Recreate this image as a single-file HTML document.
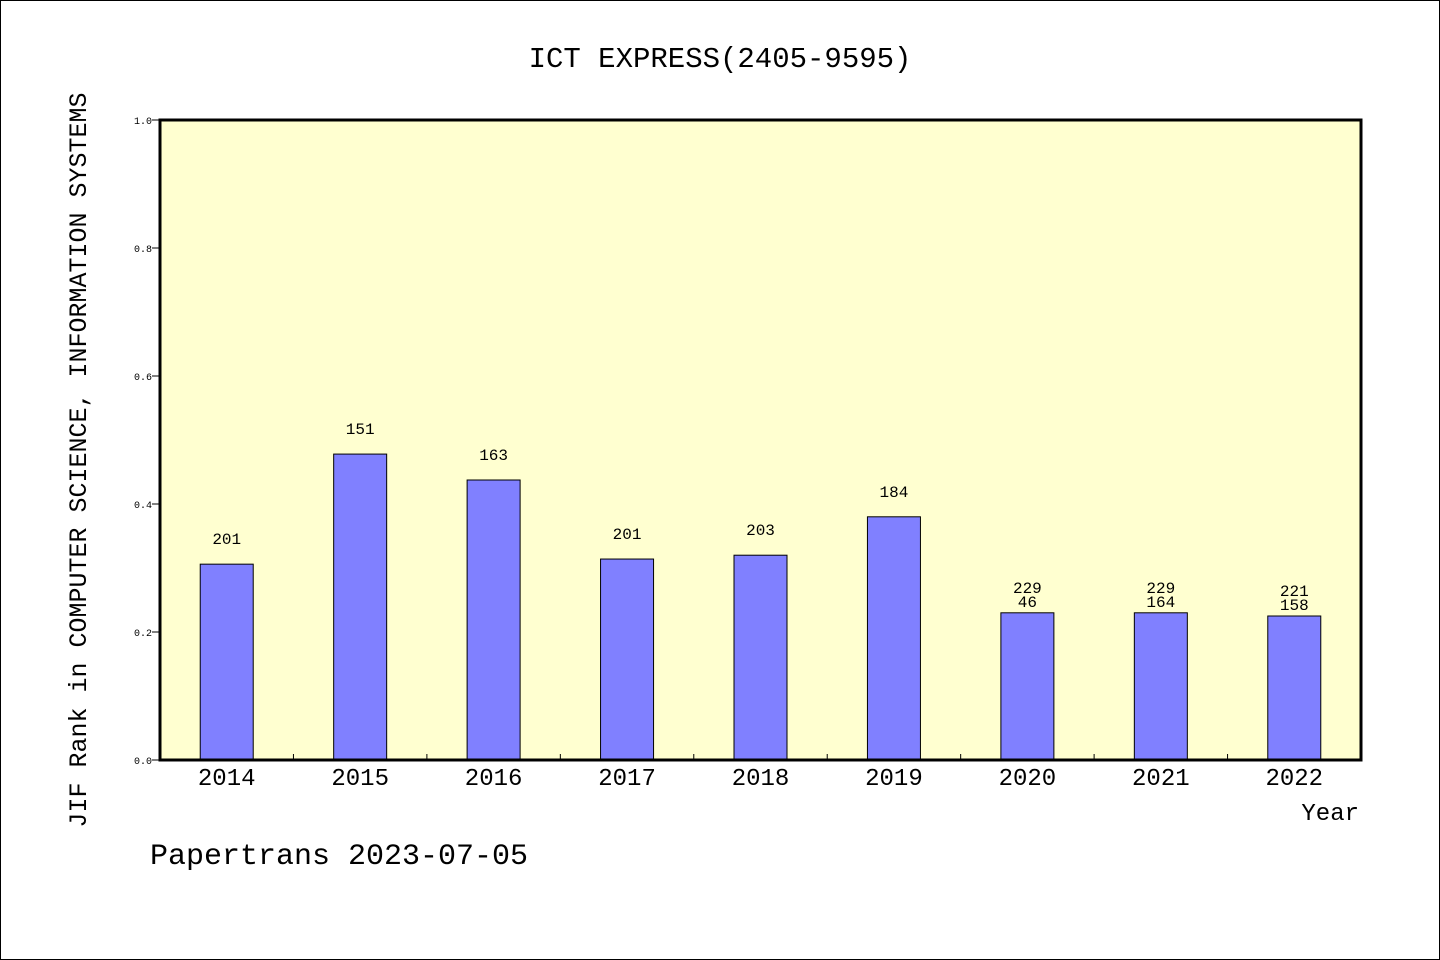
<!DOCTYPE html>
<html><head><meta charset="utf-8"><style>
body{margin:0;background:#fff}
svg{display:block;font-family:"Liberation Mono","IPAGothic",monospace}
</style></head><body>
<svg id="chart" width="1440" height="960" viewBox="0 0 1440 960">
<rect x="0.5" y="0.5" width="1439" height="959" fill="#fff" stroke="#000"/>
<text x="720" y="67" text-anchor="middle" font-size="29">ICT EXPRESS(2405-9595)</text>
<rect x="160" y="120" width="1201" height="640" fill="#ffffd0"/>
<g id="bars"></g>
<rect x="160" y="120" width="1201" height="640" fill="none" stroke="#000" stroke-width="3"/>
<text transform="translate(86,460) rotate(-90)" text-anchor="middle" font-size="25">JIF Rank in COMPUTER SCIENCE, INFORMATION SYSTEMS</text>
<text x="1359" y="820" text-anchor="end" font-size="24">Year</text>
<text x="150" y="864" font-size="30">Papertrans 2023-07-05</text>
</svg>
<script>
const years = ['2014','2015','2016','2017','2018','2019','2020','2021','2022'];
const values = [0.306,0.478,0.4375,0.314,0.320,0.380,0.230,0.230,0.225];
const labelsTop = ['201','151','163','201','203','184','229','229','221'];
const labelsSecond = ['','','','','','','46','164','158'];
const yTicks = ['0.0','0.2','0.4','0.6','0.8','1.0'];
const NS='http://www.w3.org/2000/svg';
const x0=160,x1=1361,y0=760,y1=120;
const band=(x1-x0)/years.length;
const xc=i=>x0+band*(i+0.5);
const ys=v=>y0-(y0-y1)*v;
const g=document.getElementById('bars');
function mk(t,a){const e=document.createElementNS(NS,t);for(const k in a)e.setAttribute(k,a[k]);g.appendChild(e);return e;}
yTicks.forEach((t,i)=>{
  const y=ys(parseFloat(t));
  const l=mk('line',{x1:x0-8,x2:x0,y1:y,y2:y,stroke:'#000'});
  
  
  const tx=mk('text',{x:x0-8,y:y+4,'text-anchor':'end','font-size':10});
  tx.textContent=t;
  
  
});
for(let i=1;i<years.length;i++){
  const x=x0+band*i;
  const l=mk('line',{x1:x,x2:x,y1:y0,y2:y0-6,stroke:'#000'});
  
  
}
years.forEach((yr,i)=>{
  const c=xc(i),top=ys(values[i]);
  const r=mk('rect',{x:c-26.5,y:top,width:53,height:y0-top,fill:'#8080ff',stroke:'#000','stroke-width':1});
  
  
  const xl=mk('text',{x:c,y:785,'text-anchor':'middle','font-size':24});
  xl.textContent=yr;
  
  
  const a=mk('text',{x:c,y:top-20,'text-anchor':'middle','font-size':16});
  a.textContent=labelsTop[i];
  
  
  if(labelsSecond[i]){
    const b=mk('text',{x:c,y:top-6,'text-anchor':'middle','font-size':16});
    b.textContent=labelsSecond[i];
    
    
  }
});
</script>
</body></html>
